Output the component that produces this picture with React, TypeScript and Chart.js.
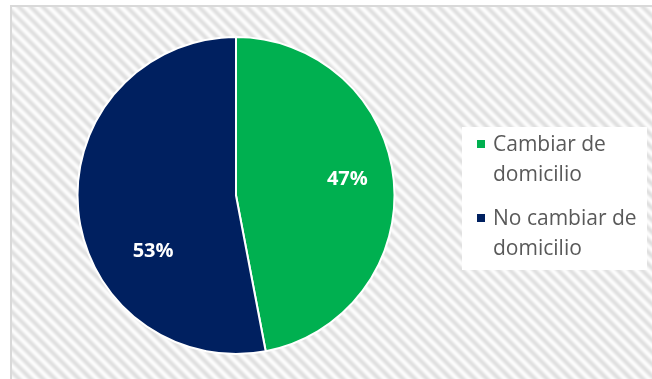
import React, { useEffect, useRef } from "react";
import { Chart, registerables } from "chart.js";

Chart.register(...registerables);

const categories: string[][] = [["Cambiar de", "domicilio"], ["No cambiar de", "domicilio"]];
const values: number[] = [47, 53];
const sliceColors: string[] = ["#00B050", "#002060"];

// label placement tweaks (angle shift in degrees, radial fraction)
const labelPlacement = [
  { shift: -3, dist: 0.71 },
  { shift: -28.5, dist: 0.63 },
];

const W = 652;
const H = 379;

export default function App() {
  const ref = useRef<HTMLCanvasElement>(null);

  useEffect(() => {
    const canvas = ref.current!;
    const P = 12;
    const tile = document.createElement("canvas");
    tile.width = P;
    tile.height = P;
    const tctx = tile.getContext("2d")!;
    const img = tctx.createImageData(P, P);
    for (let y = 0; y < P; y++) {
      for (let x = 0; x < P; x++) {
        const t = (((x - y) % P) + P) % P;
        const v = 0.5 + 0.5 * Math.cos((2 * Math.PI * t) / P);
        const c = Math.round(252 - 28 * v);
        const i = (y * P + x) * 4;
        img.data[i] = c;
        img.data[i + 1] = c;
        img.data[i + 2] = c;
        img.data[i + 3] = 255;
      }
    }
    tctx.putImageData(img, 0, 0);

    const bgPlugin = {
      id: "bgPlugin",
      beforeDraw(chart: any) {
        const ctx = chart.ctx;
        ctx.save();
        ctx.fillStyle = "#ffffff";
        ctx.fillRect(0, 0, W, H);
        const pat = ctx.createPattern(tile, "repeat");
        ctx.fillStyle = pat;
        ctx.fillRect(12, 7, W - 12, H - 7);
        ctx.fillStyle = "#d9d9d9";
        ctx.fillRect(10, 5, W - 10, 2);
        ctx.fillRect(10, 5, 2, H - 5);
        ctx.restore();
      },
    };

    const labelPlugin = {
      id: "labelPlugin",
      afterDatasetsDraw(chart: any) {
        const ctx = chart.ctx;
        const meta = chart.getDatasetMeta(0);
        const data = chart.data.datasets[0].data as number[];
        const total = data.reduce((a, b) => a + b, 0);
        ctx.save();
        ctx.fillStyle = "#ffffff";
        ctx.font = "bold 20px 'Open Sans'";
        ctx.textAlign = "center";
        ctx.textBaseline = "middle";
        meta.data.forEach((arc: any, i: number) => {
          const p = arc.getProps(["x", "y", "startAngle", "endAngle", "outerRadius"], true);
          const pl = labelPlacement[i];
          const mid = (p.startAngle + p.endAngle) / 2 + (pl.shift * Math.PI) / 180;
          const r = p.outerRadius * pl.dist;
          const tx = p.x + Math.cos(mid) * r;
          const ty = p.y + Math.sin(mid) * r;
          ctx.fillText(Math.round((data[i] / total) * 100) + "%", tx, ty);
        });
        ctx.restore();
      },
    };

    const legendPlugin = {
      id: "legendPlugin",
      afterDraw(chart: any) {
        const ctx = chart.ctx;
        const labels = chart.data.labels as string[][];
        const colors = chart.data.datasets[0].backgroundColor as string[];
        ctx.save();
        ctx.fillStyle = "#ffffff";
        ctx.fillRect(462, 127, 185, 143);
        ctx.font = "21px 'Open Sans'";
        ctx.textBaseline = "alphabetic";
        ctx.textAlign = "left";
        let baseline = 151;
        labels.forEach((lines, i) => {
          ctx.fillStyle = colors[i];
          ctx.fillRect(477, baseline - 11, 8, 8);
          ctx.fillStyle = "#595959";
          lines.forEach((ln, j) => {
            ctx.fillText(ln, 493, baseline + j * 30);
          });
          baseline += 74;
        });
        ctx.restore();
      },
    };

    const chart = new Chart(canvas, {
      type: "pie",
      data: {
        labels: categories,
        datasets: [
          {
            data: values,
            backgroundColor: sliceColors,
            borderColor: "#ffffff",
            borderWidth: 2,
          },
        ],
      },
      options: {
        responsive: false,
        animation: false,
        devicePixelRatio: 1,
        layout: { padding: { left: 76.5, right: 256.5, top: 36, bottom: 24 } },
        plugins: {
          legend: { display: false },
          tooltip: { enabled: false },
        },
      },
      plugins: [bgPlugin, labelPlugin, legendPlugin],
    });
    return () => chart.destroy();
  }, []);

  return (
    <div style={{ position: "fixed", left: 0, top: 0, width: W, height: H }}>
      <canvas ref={ref} width={W} height={H} style={{ display: "block", width: W, height: H }} />
    </div>
  );
}
